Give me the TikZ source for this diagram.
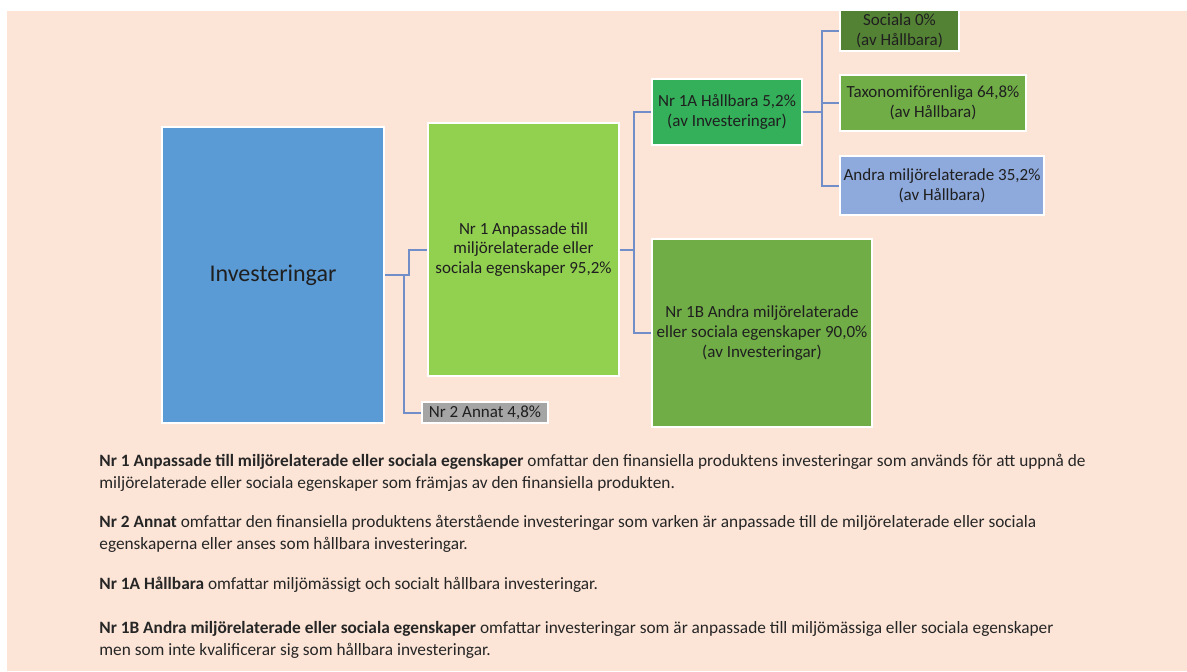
\documentclass[tikz,border=0pt]{standalone}
\usepackage{fontspec}
\setmainfont{Carlito}
\definecolor{bgpeach}{HTML}{FCE4D6}
\definecolor{invblue}{HTML}{5B9BD5}
\definecolor{lightgreen}{HTML}{92D050}
\definecolor{midgreen}{HTML}{70AD47}
\definecolor{brightgreen}{RGB}{52,176,90}
\definecolor{darkgreen}{HTML}{548235}
\definecolor{paleblue}{HTML}{8EA9DB}
\definecolor{annatgray}{HTML}{A5A5A5}
\definecolor{linkblue}{RGB}{114,142,200}
\begin{document}
\begin{tikzpicture}[x=0.5pt,y=-0.5pt,
  box/.style={draw=white,line width=0.6pt,inner sep=1pt,align=center,
    font=\fontsize{8.5}{9.8}\selectfont,text=black!88},
  link/.style={draw=linkblue,line width=1pt},
  note/.style={anchor=base west,inner sep=0pt,font=\fontsize{8.65}{10}\selectfont,text=black!85}]
\useasboundingbox (0,0) rectangle (1187,671);
\fill[white] (0,0) rectangle (1187,671);
\fill[bgpeach] (7,11) rectangle (1187,671);
% boxes
\node[box,fill=invblue,minimum width=111pt,minimum height=148pt,font=\fontsize{12}{14}\selectfont] (inv) at (273,275) {Investeringar};
\node[box,fill=lightgreen,minimum width=95.5pt,minimum height=126.5pt] (nr1) at (523.5,249.5) {Nr 1 Anpassade till\\miljörelaterade eller\\sociala egenskaper 95,2\%};
\node[box,fill=annatgray,minimum width=63pt,minimum height=10.5pt,inner sep=0pt] (nr2) at (485,412.5) {Nr 2 Annat 4,8\%};
\node[box,fill=brightgreen,minimum width=75pt,minimum height=33pt] (nr1a) at (727,112) {Nr 1A Hållbara 5,2\%\\(av Investeringar)};
\node[box,fill=midgreen,minimum width=110pt,minimum height=94pt] (nr1b) at (762,333) {Nr 1B Andra miljörelaterade\\eller sociala egenskaper 90,0\%\\(av Investeringar)};
\node[box,fill=darkgreen,minimum width=59.5pt,minimum height=20.5pt] (soc) at (899.5,30.5) {Sociala 0\%\\(av Hållbara)};
\node[box,fill=midgreen,minimum width=93pt,minimum height=28pt] (tax) at (933,103) {Taxonomiförenliga 64,8\%\\(av Hållbara)};
\node[box,fill=paleblue,minimum width=102pt,minimum height=29.5pt] (andra) at (942,185.5) {Andra miljörelaterade 35,2\%\\(av Hållbara)};
% links
\draw[link] (inv.east) -- ++(24,0) |- (nr1.west);
\draw[link] (inv.east) -- ++(19,0) |- (nr2.west);
\draw[link] (nr1.east) -- ++(14,0) |- (nr1a.west);
\draw[link] (nr1.east) -- ++(14,0) |- (nr1b.west);
\draw[link] (nr1a.east) -- ++(19,0) |- (soc.west);
\draw[link] (nr1a.east) -- ++(19,0) |- (tax.west);
\draw[link] (nr1a.east) -- ++(19,0) |- (andra.west);
% notes
\node[note] (t1) at (99,466) {\textbf{Nr 1 Anpassade till miljörelaterade eller sociala egenskaper} omfattar den finansiella produktens investeringar som används för att uppnå de};
\node[note] (t2) at (99,488) {miljörelaterade eller sociala egenskaper som främjas av den finansiella produkten.};
\node[note] (t3) at (99,527) {\textbf{Nr 2 Annat} omfattar den finansiella produktens återstående investeringar som varken är anpassade till de miljörelaterade eller sociala};
\node[note] (t4) at (99,549) {egenskaperna eller anses som hållbara investeringar.};
\node[note] (t5) at (99,589) {\textbf{Nr 1A Hållbara} omfattar miljömässigt och socialt hållbara investeringar.};
\node[note] (t6) at (99,633) {\textbf{Nr 1B Andra miljörelaterade eller sociala egenskaper} omfattar investeringar som är anpassade till miljömässiga eller sociala egenskaper};
\node[note] (t7) at (99,655) {men som inte kvalificerar sig som hållbara investeringar.};
\end{tikzpicture}
\end{document}
